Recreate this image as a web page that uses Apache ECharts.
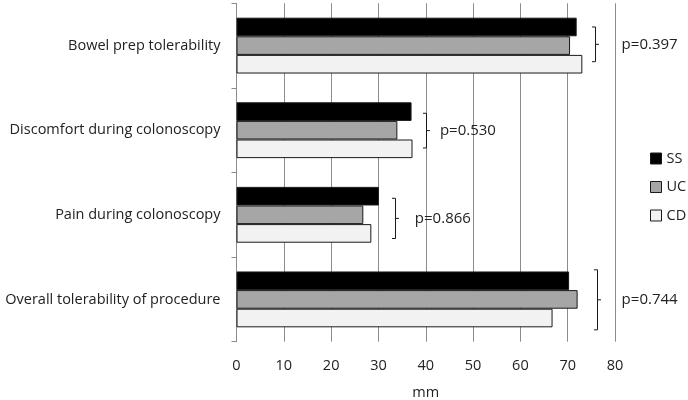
<!DOCTYPE html>
<html><head><meta charset="utf-8">
<script src="https://cdn.jsdelivr.net/npm/echarts@6/dist/echarts.min.js"></script>
<style>html,body{margin:0;padding:0;background:#fff}#c{width:688px;height:400px}</style>
</head><body><div id="c"></div>
<script>
const categories = ['Bowel prep tolerability','Discomfort during colonoscopy','Pain during colonoscopy','Overall tolerability of procedure'];
const ssValues = [71.9, 37.0, 30.1, 70.3];
const ucValues = [70.5, 34.0, 26.8, 72.1];
const cdValues = [73.1, 37.2, 28.5, 66.8];
const xTicks = [0,10,20,30,40,50,60,70,80];
// [category index, bracket x (mm), top offset, bottom offset (in category bands), text x (mm), label]
const brackets = [
  [0, 75.8, -0.22, 0.19, 81.4, 'p=0.397'],
  [1, 40.1, -0.20, 0.21, 43.0, 'p=0.530'],
  [2, 33.5, -0.195, 0.28, 37.7, 'p=0.866'],
  [3, 76.3, -0.35, 0.36, 81.4, 'p=0.744']
];
const FONT = 'Open Sans';
const chart = echarts.init(document.getElementById('c'));
function barSeries(name, data, color){
  return {name, type:'bar', data, barGap:'0%', barCategoryGap:'34%',
    itemStyle:{color, borderColor:'#1a1a1a', borderWidth:1}, silent:true, animation:false};
}
chart.setOption({
  animation:false,
  textStyle:{fontFamily:FONT},
  grid:{left:236.5, right:73, top:3.3, bottom:58.3, containLabel:false, outerBoundsMode:'none'},
  legend:{orient:'vertical', left:650, top:151, padding:0, itemWidth:11, itemHeight:11, itemGap:13.5,
    textStyle:{fontFamily:FONT, fontSize:14.5, color:'#222'},
    data:[{name:'SS', icon:'rect', itemStyle:{color:'#000', borderColor:'#1a1a1a', borderWidth:1}},
          {name:'UC', icon:'rect', itemStyle:{color:'#a6a6a6', borderColor:'#1a1a1a', borderWidth:1}},
          {name:'CD', icon:'rect', itemStyle:{color:'#f2f2f2', borderColor:'#1a1a1a', borderWidth:1}}]},
  xAxis:{type:'value', min:xTicks[0], max:xTicks[xTicks.length-1], interval:xTicks[1]-xTicks[0],
    name:'mm', nameLocation:'middle', nameGap:44, nameTextStyle:{fontFamily:FONT, fontSize:14.5, color:'#222'},
    axisLine:{show:false}, axisTick:{show:false},
    axisLabel:{fontFamily:FONT, fontSize:14.5, color:'#222', margin:17},
    splitLine:{show:true, lineStyle:{color:'#8c8c8c', width:1}}},
  yAxis:{type:'category', data:categories, inverse:true,
    axisLine:{show:true, lineStyle:{color:'#8c8c8c'}},
    axisTick:{show:true, length:5, lineStyle:{color:'#8c8c8c'}},
    axisLabel:{fontFamily:FONT, fontSize:14.5, color:'#222', margin:16, padding:[4,0,0,0]}},
  series:[
    barSeries('SS', ssValues, '#000000'),
    barSeries('UC', ucValues, '#a6a6a6'),
    barSeries('CD', cdValues, '#f2f2f2'),
    {type:'custom', silent:true, clip:false, data:brackets, z:5,
     renderItem:function(params, api){
       const cat = api.value(0), bx = api.value(1), t0 = api.value(2), t1 = api.value(3), tx = api.value(4);
       const label = brackets[params.dataIndex][5];
       const band = api.size([0,1])[1];
       const c = api.coord([bx, cat]);
       const x = Math.round(c[0]) + 0.5;
       const y0 = c[1] + t0*band, y1 = c[1] + t1*band, ym = (y0+y1)/2;
       const txp = api.coord([tx, cat])[0];
       const ls = {stroke:'#1a1a1a', lineWidth:1, fill:null};
       return {type:'group', children:[
         {type:'polyline', shape:{points:[[x-3.5,y0],[x,y0],[x,y1],[x-3.5,y1]]}, style:ls},
         {type:'line', shape:{x1:x, y1:ym, x2:x+3.5, y2:ym}, style:ls},
         {type:'text', x:txp, y:ym, style:{text:label, fontFamily:FONT, fontSize:15, fill:'#222', verticalAlign:'middle', align:'left'}}
       ]};
     }}
  ]
});
</script></body></html>
